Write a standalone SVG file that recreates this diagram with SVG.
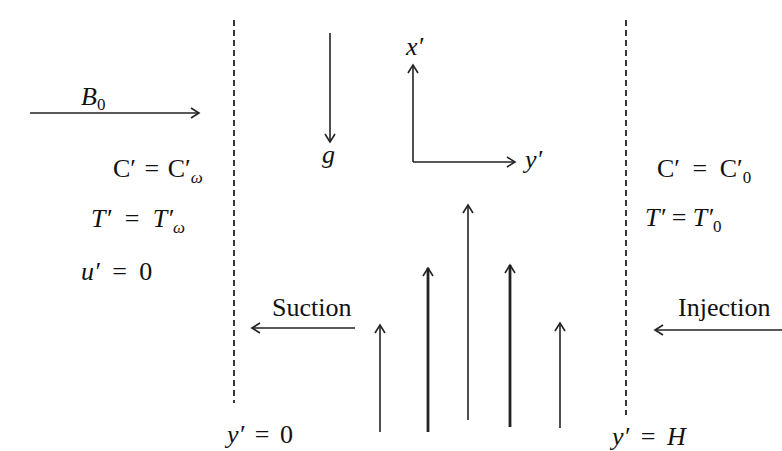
<svg xmlns="http://www.w3.org/2000/svg" width="782" height="451" viewBox="0 0 782 451">
<defs>
<marker id="ah" viewBox="-10 -6 12 12" refX="0" refY="0" markerWidth="12" markerHeight="12" markerUnits="userSpaceOnUse" orient="auto">
<path d="M-8,-5 L0,0 L-8,5" fill="none" stroke="#222" stroke-width="1.6"/>
</marker>
</defs>
<style>
.t{font-family:"Liberation Serif","DejaVu Serif",serif;font-size:26px;fill:#111}
.i{font-style:italic}
.s{font-size:17px}
.ln{stroke:#222;stroke-width:1.6;fill:none}
.thick{stroke-width:2.8}
.dash{stroke:#222;stroke-width:1.8;stroke-dasharray:6 4;fill:none}
</style>
<rect width="782" height="451" fill="#fff"/>
<g id="walls">
<line class="dash" x1="234" y1="20" x2="234" y2="403"/>
<line class="dash" x1="626" y1="20" x2="626" y2="415"/>
</g>
<g id="connectors">
<line class="ln" x1="30" y1="113" x2="199" y2="113" marker-end="url(#ah)"/>
<line class="ln" x1="330" y1="33" x2="330" y2="142" marker-end="url(#ah)"/>
<line class="ln" x1="413" y1="162" x2="413" y2="65" marker-end="url(#ah)"/>
<line class="ln" x1="413" y1="162" x2="515" y2="162" marker-end="url(#ah)"/>
<line class="ln" x1="355" y1="328" x2="252" y2="328" marker-end="url(#ah)"/>
<line class="ln" x1="782" y1="330" x2="655" y2="330" marker-end="url(#ah)"/>
<line class="ln" x1="380" y1="432" x2="380" y2="325" marker-end="url(#ah)"/>
<line class="ln thick" x1="428" y1="432" x2="428" y2="268" marker-end="url(#ah)"/>
<line class="ln" x1="468" y1="420" x2="468" y2="205" marker-end="url(#ah)"/>
<line class="ln thick" x1="510" y1="427" x2="510" y2="265" marker-end="url(#ah)"/>
<line class="ln" x1="560" y1="428" x2="560" y2="323" marker-end="url(#ah)"/>
</g>
<g id="label-B0"><text class="t" x="81" y="105"><tspan class="i">B</tspan><tspan class="s" dy="5">0</tspan></text></g>
<g id="label-g"><text class="t i" x="322" y="163">g</text></g>
<g id="label-x"><text class="t i" x="406" y="55">x′</text></g>
<g id="label-y"><text class="t i" x="525" y="168">y′</text></g>
<g id="left-conditions">
<text class="t" x="113" y="177" word-spacing="2">C′ = C′<tspan class="s i" dy="6">ω</tspan></text>
<text class="t" x="91" y="227" word-spacing="7"><tspan class="i">T′</tspan> = <tspan class="i">T′</tspan><tspan class="s i" dy="6">ω</tspan></text>
<text class="t" x="81" y="280" word-spacing="6"><tspan class="i">u′</tspan> = 0</text>
</g>
<g id="right-conditions">
<text class="t" x="657" y="177" word-spacing="6">C′ = C′<tspan class="s" dy="6">0</tspan></text>
<text class="t" x="645" y="226"><tspan class="i">T′</tspan> = <tspan class="i">T′</tspan><tspan class="s" dy="6">0</tspan></text>
</g>
<g id="label-suction"><text class="t" x="272" y="316">Suction</text></g>
<g id="label-injection"><text class="t" x="678" y="316">Injection</text></g>
<g id="label-y0"><text class="t" x="227" y="443" word-spacing="4"><tspan class="i">y′</tspan> = 0</text></g>
<g id="label-yH"><text class="t" x="612" y="445" word-spacing="5"><tspan class="i">y′</tspan> = <tspan class="i">H</tspan></text></g>
</svg>
